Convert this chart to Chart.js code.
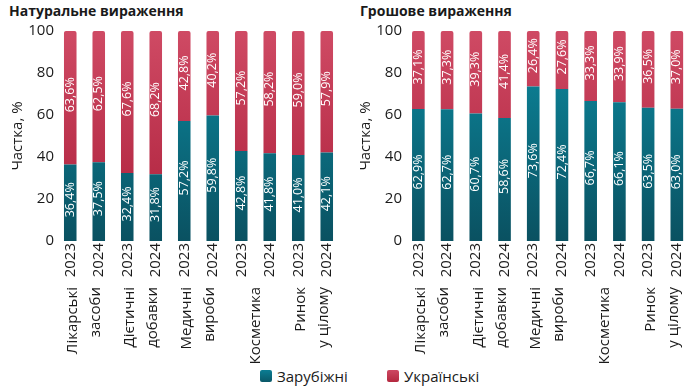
<!DOCTYPE html>
<html><head><meta charset="utf-8">
<script src="https://cdn.jsdelivr.net/npm/chart.js@4/dist/chart.umd.min.js"></script>
<style>
html,body{margin:0;padding:0;background:#fff;}
#wrap{position:relative;width:697px;height:390px;overflow:hidden;font-family:'Open Sans',sans-serif;color:#1a1a1a;}
.ttl{position:absolute;top:1px;font-weight:bold;font-size:14px;line-height:20px;}
canvas{position:absolute;top:0;}
.leg{position:absolute;top:366px;font-size:15px;line-height:20px;display:flex;align-items:center;}
.sw{display:inline-block;width:12px;height:12px;border-radius:2px;margin-right:5px;}
</style></head>
<body><div id="wrap">
<div class="ttl" style="left:9px">Натуральне вираження</div>
<div class="ttl" style="left:360px">Грошове вираження</div>
<canvas id="c1" width="348" height="366" style="left:0"></canvas>
<canvas id="c2" width="349" height="366" style="left:348px"></canvas>
<div class="leg" style="left:260px"><span class="sw" style="background:linear-gradient(#0b7d93,#0a5868)"></span>Зарубіжні</div>
<div class="leg" style="left:387px"><span class="sw" style="background:linear-gradient(#cd4862,#b4283f)"></span>Українські</div>
</div>
<script>
const years = ['2023','2024','2023','2024','2023','2024','2023','2024','2023','2024'];
const groups = [['Лікарські','засоби'],['Дієтичні','добавки'],['Медичні','вироби'],['Косметика'],['Ринок','у цілому']];
const seriesNames = ['Зарубіжні','Українські'];
const yTicks = [0,20,40,60,80,100];
const natForeign = [36.4,37.5,32.4,31.8,57.2,59.8,42.8,41.8,41.0,42.1];
const natDomestic = [63.6,62.5,67.6,68.2,42.8,40.2,57.2,58.2,59.0,57.9];
const monForeign = [62.9,62.7,60.7,58.6,73.6,72.4,66.7,66.1,63.5,63.0];
const monDomestic = [37.1,37.3,39.3,41.4,26.4,27.6,33.3,33.9,36.5,37.0];

const FONT = "'Open Sans', sans-serif";
const TXT = '#1a1a1a';

function grad(c1, c2) {
  return (ctx) => {
    const ch = ctx.chart, a = ch.chartArea;
    if (!a) return c1;
    const g = ch.ctx.createLinearGradient(0, a.bottom, 0, a.top);
    g.addColorStop(0, c1); g.addColorStop(1, c2);
    return g;
  };
}

const labelPlugin = {
  id: 'segLabels',
  afterDatasetsDraw(chart) {
    const ctx = chart.ctx;
    ctx.save();
    ctx.fillStyle = '#ffffff';
    ctx.font = "12.5px " + FONT;
    ctx.textAlign = 'center';
    ctx.textBaseline = 'middle';
    chart.data.datasets.forEach((ds, di) => {
      const meta = chart.getDatasetMeta(di);
      meta.data.forEach((el, i) => {
        const v = ds.data[i];
        const y = (el.y + el.base) / 2 - 3;
        ctx.save();
        ctx.translate(el.x, y);
        ctx.rotate(-Math.PI / 2);
        ctx.fillText(v.toFixed(1).replace('.', ',') + '%', 0, 0);
        ctx.restore();
      });
    });
    ctx.restore();
  }
};

// group (category) labels drawn on the 'g' axis positions
const groupPlugin = {
  id: 'groupLabels',
  afterDraw(chart) {
    const s = chart.scales.g;
    const ctx = chart.ctx;
    ctx.save();
    ctx.fillStyle = TXT;
    ctx.font = "15px " + FONT;
    ctx.textAlign = 'right';
    ctx.textBaseline = 'middle';
    groups.forEach((lines, j) => {
      const cx = s.getPixelForTick(j);
      const n = lines.length;
      lines.forEach((ln, i) => {
        const x = cx + (i - (n - 1) / 2) * 23;
        ctx.save();
        ctx.translate(x, s.top + 5);
        ctx.rotate(-Math.PI / 2);
        ctx.fillText(ln, 0, 0);
        ctx.restore();
      });
    });
    ctx.restore();
  }
};

function makeChart(id, foreign, domestic, padRight) {
  return new Chart(document.getElementById(id), {
    type: 'bar',
    data: {
      labels: years,
      datasets: [
        { label: seriesNames[0], data: foreign, backgroundColor: grad('#0a5161', '#0c8aa0'), borderRadius: 2, barPercentage: 0.44, categoryPercentage: 1 },
        { label: seriesNames[1], data: domestic, backgroundColor: grad('#ac1f3a', '#cf4a64'), borderRadius: 2, barPercentage: 0.44, categoryPercentage: 1 }
      ]
    },
    options: {
      responsive: false,
      devicePixelRatio: 1,
      animation: false,
      layout: { padding: { top: 31, right: padRight, left: 0, bottom: 0 } },
      plugins: { legend: { display: false }, tooltip: { enabled: false }, title: { display: false } },
      scales: {
        x: {
          stacked: true, weight: 0,
          grid: { display: false, drawTicks: false }, border: { display: false },
          ticks: { minRotation: 90, maxRotation: 90, autoSkip: false, padding: 2, color: TXT, font: { family: FONT, size: 15 } },
          afterFit: (s) => { s.height = 41; }
        },
        g: {
          type: 'category', labels: groups.map(l => l.join(' ')), position: 'bottom', weight: 1, offset: true,
          grid: { display: false, drawTicks: false }, border: { display: false },
          ticks: { display: false },
          afterFit: (s) => { s.height = 84; }
        },
        y: {
          stacked: true, min: 0, max: 100,
          grid: { display: false, drawTicks: false }, border: { display: false },
          ticks: { stepSize: 20, padding: 2, color: TXT, font: { family: FONT, size: 15 },
                   callback: (v) => yTicks.includes(v) ? String(v) : '' },
          title: { display: true, text: 'Частка, %', color: TXT, font: { family: FONT, size: 15 }, padding: { top: 9, bottom: 0 } },
          afterFit: (s) => { s.width = 56; }
        }
      }
    },
    plugins: [labelPlugin, groupPlugin]
  });
}

makeChart('c1', natForeign, natDomestic, 7);
makeChart('c2', monForeign, monDomestic, 3.5);
</script>
</body></html>
